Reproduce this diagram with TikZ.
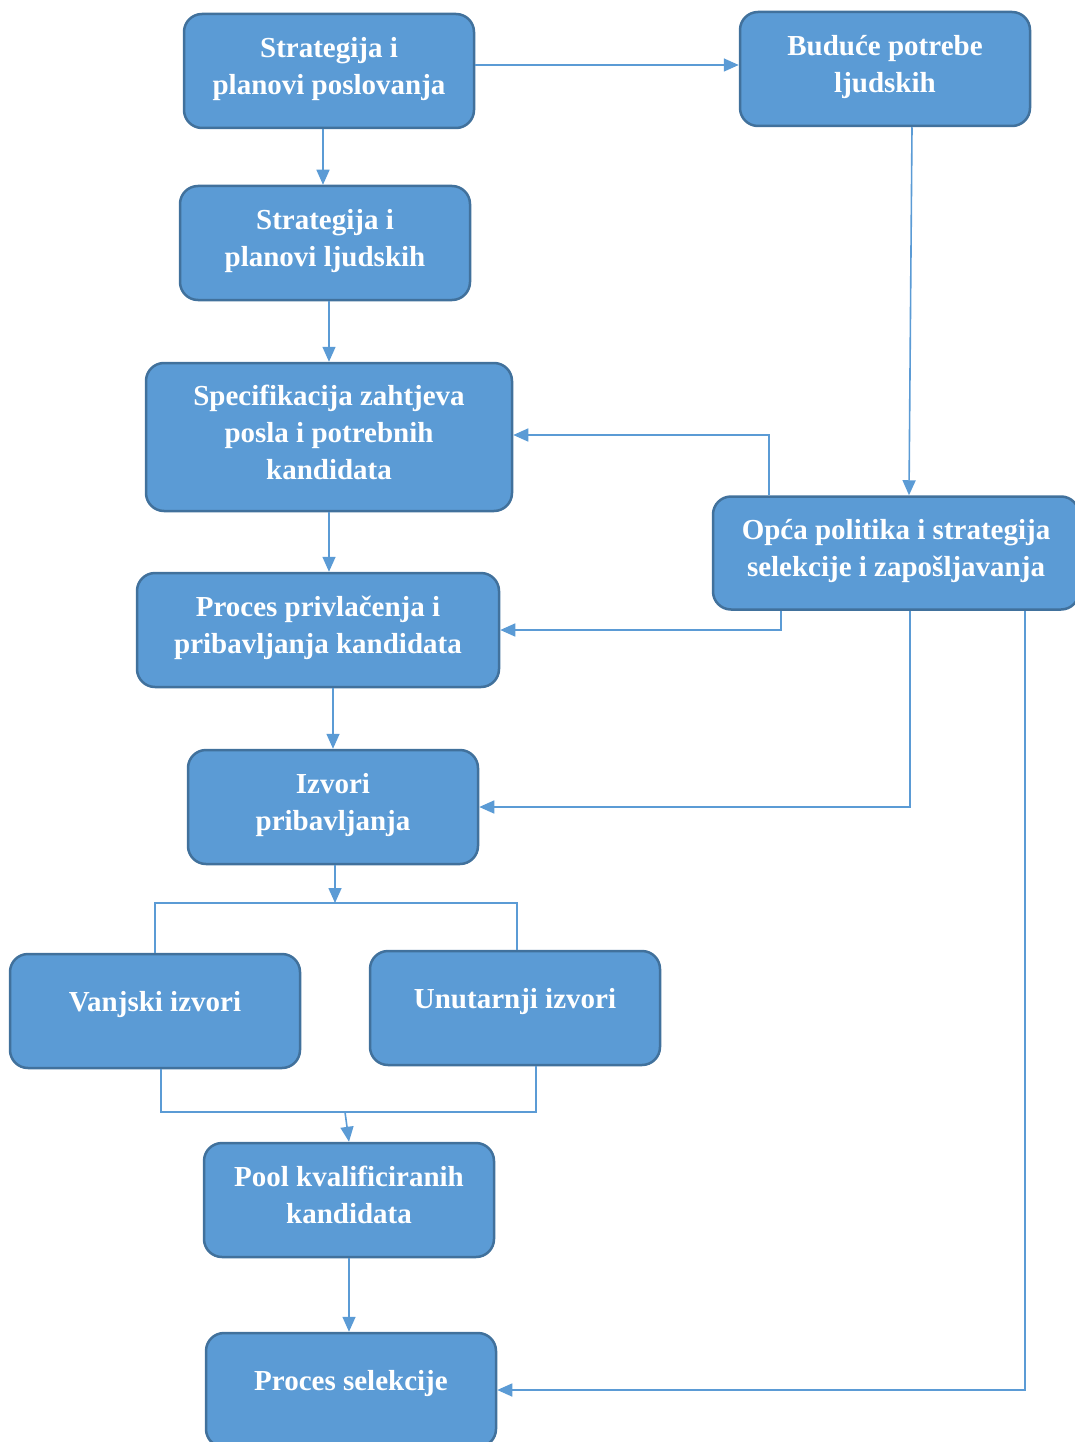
\documentclass[tikz,border=0pt]{standalone}
\usepackage{fontspec}
\setmainfont{Liberation Serif}
\usetikzlibrary{arrows.meta}
\definecolor{plava}{HTML}{5B9BD5}
\definecolor{rub}{HTML}{41719C}
\tikzset{
  blok/.style={draw=rub, fill=plava, line width=2.5pt, rounded corners=18pt,
    minimum width=290pt, minimum height=114pt, align=center, text=white,
    font=\fontsize{29}{37}\selectfont\bfseries, text depth=10pt},
  jedan/.style={text depth=19pt},
  veza/.style={draw=plava, line width=1.6pt},
  strelica/.style={veza, -{Triangle[length=15pt,width=13pt]}}
}
\begin{document}
\begin{tikzpicture}[x=1pt, y=-1pt]
  \useasboundingbox (0,0) rectangle (1074,1442);
  \node (posl) at (329,71) [blok] {Strategija i\\planovi poslovanja};
  \node (buduce) at (885,69) [blok] {Buduće potrebe\\ljudskih};
  \node (ljr) at (325,243) [blok] {Strategija i\\planovi ljudskih};
  \node (spec) at (329,437) [blok, minimum width=366pt, minimum height=148pt] {Specifikacija zahtjeva\\posla i potrebnih\\kandidata};
  \node (opca) at (896,553) [blok, minimum width=366pt, minimum height=113pt] {Opća politika i strategija\\selekcije i zapošljavanja};
  \node (privl) at (318,630) [blok, minimum width=362pt] {Proces privlačenja i\\pribavljanja kandidata};
  \node (izvori) at (333,807) [blok] {Izvori\\pribavljanja};
  \node (vanjski) at (155,1011) [blok, jedan] {Vanjski izvori};
  \node (unutarnji) at (515,1008) [blok, jedan] {Unutarnji izvori};
  \node (pool) at (349,1200) [blok] {Pool kvalificiranih\\kandidata};
  \node (selekcija) at (351,1390) [blok, jedan] {Proces selekcije};
  \coordinate (grana) at (335,903);
  \coordinate (spoj) at (345,1112);

  \draw[strelica] ([yshift=6pt]posl.east) -- ([yshift=6pt]posl.east -| buduce.west);
  \foreach \source/\dest/\dx in {posl/ljr/-6, ljr/spec/4, spec/privl/0, privl/izvori/15, pool/selekcija/0}
    \draw[strelica] ([xshift=\dx pt]\source.south) -- ([xshift=\dx pt]\source.south |- \dest.north);
  \draw[strelica] ([xshift=27pt]buduce.south) -- ([xshift=13pt]opca.north);

  % povratne veze od opce politike
  \draw[strelica] ([xshift=-127pt]opca.north) |- ([yshift=2pt]spec.east);
  \draw[strelica] ([xshift=-115pt]opca.south) |- (privl.east);
  \draw[strelica] ([xshift=14pt]opca.south) |- (izvori.east);
  \draw[strelica] ([xshift=129pt]opca.south) |- (selekcija.east);

  % grananje izvora
  \draw[strelica] ([xshift=2pt]izvori.south) -- (grana);
  \draw[veza] (vanjski.north) |- (grana) -| ([xshift=2pt]unutarnji.north);
  \draw[veza] ([xshift=6pt]vanjski.south) |- (spoj) -| ([xshift=21pt]unutarnji.south);
  \draw[strelica] (spoj) -- (pool.north);
\end{tikzpicture}
\end{document}
